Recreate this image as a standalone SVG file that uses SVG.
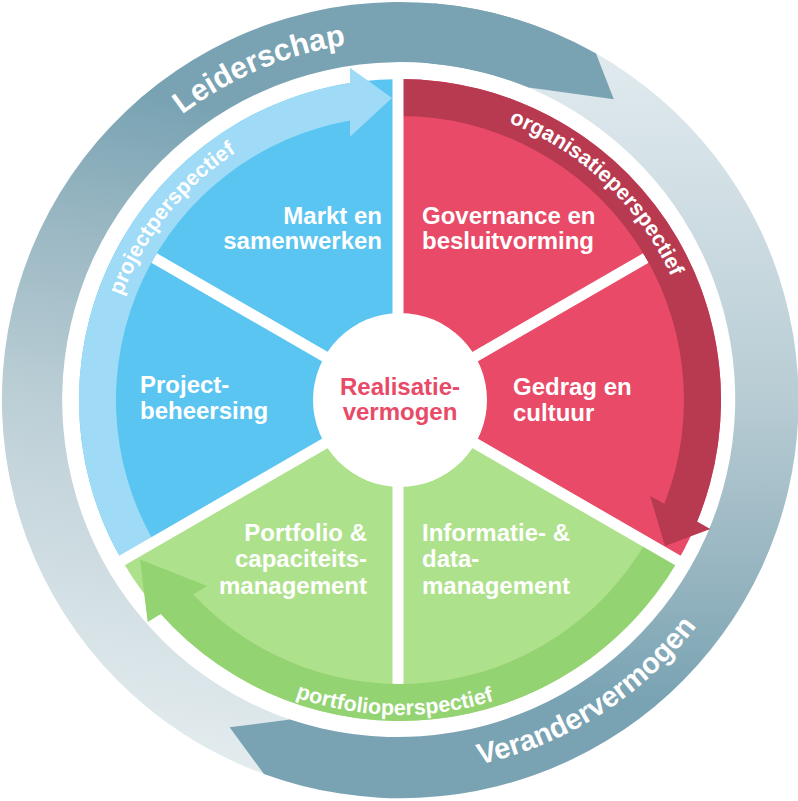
<svg xmlns="http://www.w3.org/2000/svg" width="798" height="801" viewBox="0 0 798 801">
<defs>
  <linearGradient id="gL" gradientUnits="userSpaceOnUse" x1="200" y1="770" x2="320" y2="130">
    <stop offset="0" stop-color="#e4ecef"/>
    <stop offset="0.14" stop-color="#dae5e9"/>
    <stop offset="0.51" stop-color="#bccfd6"/>
    <stop offset="0.8" stop-color="#98b6c2"/>
    <stop offset="1" stop-color="#79a3b3"/>
  </linearGradient>
  <linearGradient id="gV" gradientUnits="userSpaceOnUse" x1="560" y1="60" x2="560" y2="700">
    <stop offset="0" stop-color="#e0eaee"/>
    <stop offset="0.22" stop-color="#d0dee4"/>
    <stop offset="0.53" stop-color="#b8ccd4"/>
    <stop offset="0.82" stop-color="#94b3bf"/>
    <stop offset="1" stop-color="#79a3b3"/>
  </linearGradient>
  <path id="tpLeid" d="M80.1,237 A359,359 0 0 1 505,56.7"/>
  <path id="tpVer" d="M351.3,769.8 A373,373 0 0 0 755.7,512.2"/>
  <path id="tpProj" d="M103.1,407.8 A297,297 0 0 1 340.8,109"/>
  <path id="tpOrg" d="M418.2,102.6 A298,298 0 0 1 696.1,366.3"/>
  <path id="tpPort" d="M193.3,637.7 A315,315 0 0 0 598.2,644.8"/>
</defs>
<style>
  .lbl{font-family:"Liberation Sans",Arial,sans-serif;font-weight:700;font-size:24px;fill:#ffffff}
  .ctr{font-family:"Liberation Sans",Arial,sans-serif;font-weight:700;font-size:24px;fill:#e84a67}
  .persp{font-family:"Liberation Sans",Arial,sans-serif;font-weight:700;font-size:21.5px;fill:#ffffff}
  .ringtxt{font-family:"Liberation Sans",Arial,sans-serif;font-weight:700;fill:#ffffff}
  .blue{fill:#5bc5f1}
  .red{fill:#e84a67}
  .green{fill:#aee18b}
  .div{stroke:#ffffff;stroke-width:11;fill:none}
</style>
<rect width="798" height="801" fill="#ffffff"/>

<g id="ring">
  <path id="leiderschap-arrow" fill="url(#gL)" d="M297,784.4 A398,398 0 1 1 596,53.6 L613.8,99.2 L528.8,87.5 A338,338 0 1 0 312.5,726.5 Z"/>
  <path id="verandervermogen-arrow" fill="url(#gV)" d="M523,21.5 A398,398 0 1 1 263.9,774 L229.6,727.3 L290,719.6 A338,338 0 1 0 504.4,78.5 Z"/>
  <path id="leiderschap-head" fill="#79a3b3" d="M434.7,3.5 A398,398 0 0 1 596,53.6 L613.8,99.2 L528.8,87.5 A338,338 0 0 0 429.5,63.3 Z"/>
  <text class="ringtxt" font-size="30.5"><textPath href="#tpLeid" startOffset="50%" text-anchor="middle">Leiderschap</textPath></text>
  <text class="ringtxt" font-size="29"><textPath href="#tpVer" startOffset="50%" text-anchor="middle">Verandervermogen</textPath></text>
</g>

<g id="node-markt">
  <path class="blue" d="M400,400 L122,239.5 A321,321 0 0 1 400,79 Z"/>
  <text class="lbl" text-anchor="end"><tspan x="382" y="224">Markt en</tspan><tspan x="382" y="249">samenwerken</tspan></text>
</g>
<g id="node-governance">
  <path class="red" d="M400,400 L400,79 A321,321 0 0 1 678,239.5 Z"/>
  <text class="lbl"><tspan x="422" y="224">Governance en</tspan><tspan x="422" y="249">besluitvorming</tspan></text>
</g>
<g id="node-gedrag">
  <path class="red" d="M400,400 L678,239.5 A321,321 0 0 1 678,560.5 Z"/>
  <text class="lbl"><tspan x="513" y="395">Gedrag en</tspan><tspan x="513" y="421">cultuur</tspan></text>
</g>
<g id="node-informatie">
  <path class="green" d="M400,400 L678,560.5 A321,321 0 0 1 400,721 Z"/>
  <text class="lbl"><tspan x="422" y="541">Informatie- &amp;</tspan><tspan x="422" y="567">data-</tspan><tspan x="422" y="594">management</tspan></text>
</g>
<g id="node-portfolio">
  <path class="green" d="M400,400 L400,721 A321,321 0 0 1 122,560.5 Z"/>
  <text class="lbl" text-anchor="end"><tspan x="367" y="541">Portfolio &amp;</tspan><tspan x="367" y="567">capaciteits-</tspan><tspan x="367" y="594">management</tspan></text>
</g>
<g id="node-project">
  <path class="blue" d="M400,400 L122,560.5 A321,321 0 0 1 122,239.5 Z"/>
  <text class="lbl"><tspan x="140" y="393">Project-</tspan><tspan x="140" y="419">beheersing</tspan></text>
</g>

<g id="dividers-inner" class="div">
  <path d="M400,400 L645.9,258"/>
  <path d="M398,400 V684"/>
  <path d="M400,400 L154.1,258"/>
</g>

<g id="connectors">
  <g id="projectperspectief">
    <path fill="#9fdbf6" d="M122,560.5 A321,321 0 0 1 350,82.9 L350,67.7 L392,98 L350,136.7 L350,120.4 A284,284 0 0 0 154.05,542 Z"/>
    <text class="persp"><textPath href="#tpProj" startOffset="50%" text-anchor="middle">projectperspectief</textPath></text>
  </g>
  <g id="organisatieperspectief">
    <path fill="#b83a50" d="M400,79 A321,321 0 0 1 697.1,521.6 L710.3,528.9 L665,546 L650.2,495.9 L664.4,503.7 A284,284 0 0 0 400,116 Z"/>
    <text class="persp"><textPath href="#tpOrg" startOffset="50%" text-anchor="middle">organisatieperspectief</textPath></text>
  </g>
  <g id="portfolioperspectief">
    <path fill="#93d372" d="M678,560.5 A321,321 0 0 1 160.8,614.1 L147.7,622 L140,559.4 L207.1,586 L193.1,594.5 A284,284 0 0 0 645.95,542 Z"/>
    <text class="persp"><textPath href="#tpPort" startOffset="50%" text-anchor="middle">portfolioperspectief</textPath></text>
  </g>
</g>

<g id="dividers-full" class="div">
  <path d="M398,400 V72"/>
  <path d="M400,400 L685.8,565"/>
  <path d="M400,400 L114.2,565"/>
</g>

<g id="node-realisatievermogen">
  <circle cx="400" cy="400" r="87" fill="#ffffff"/>
  <text class="ctr" text-anchor="middle"><tspan x="400" y="395">Realisatie-</tspan><tspan x="400" y="420">vermogen</tspan></text>
</g>
</svg>
